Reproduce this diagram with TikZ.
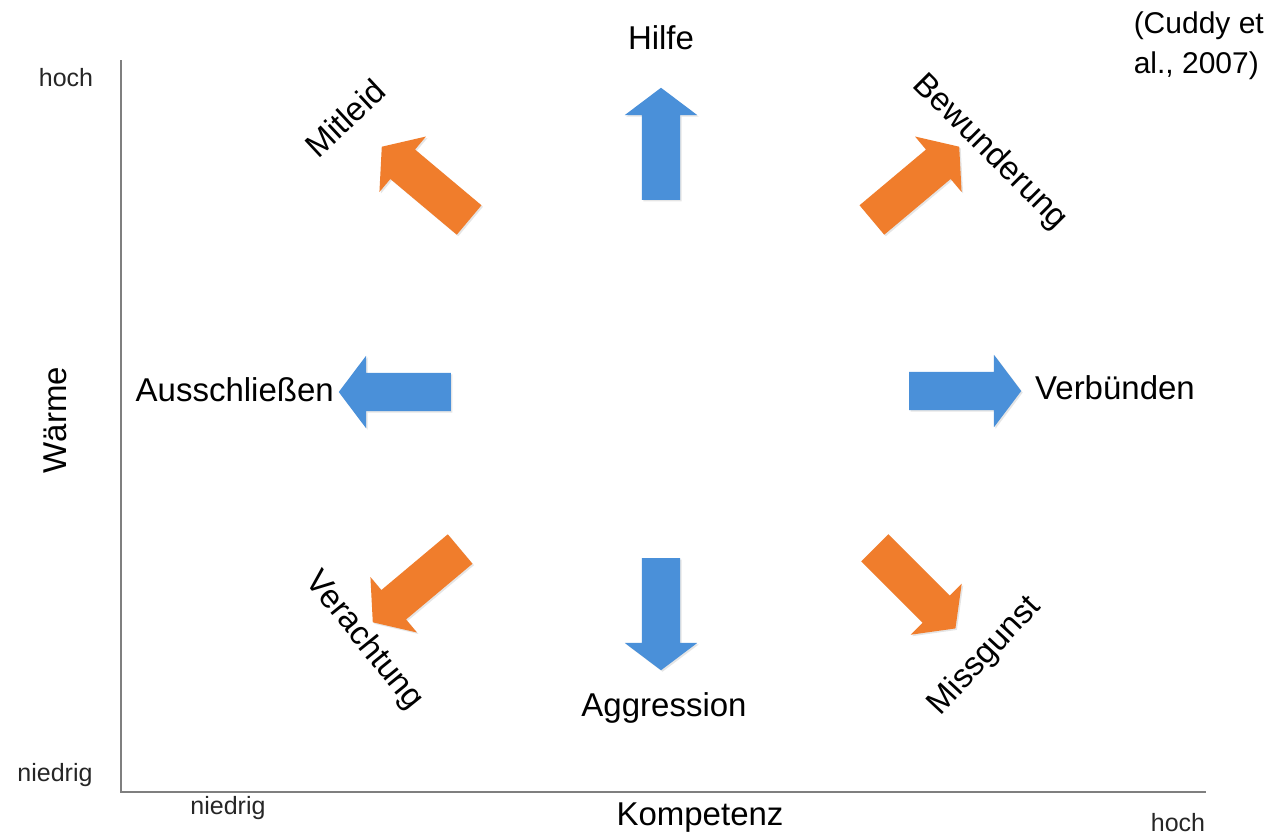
\documentclass[tikz,border=0pt]{standalone}
\usepackage{fontspec}
\setmainfont{Liberation Sans}
\usetikzlibrary{shapes.arrows,shadows}
\definecolor{arblue}{HTML}{4A90D9}
\definecolor{arorange}{HTML}{F07D2C}
\definecolor{axisgray}{HTML}{7F7F7F}
\tikzset{
  bigarrow/.style={single arrow, draw=none, inner xsep=0pt, inner ysep=19pt,
    single arrow head extend=17pt, single arrow tip angle=106,
    minimum height=#1, drop shadow={opacity=0.2, shadow xshift=1.5pt, shadow yshift=-1.5pt}},
  bluearrow/.style={bigarrow=112pt, fill=arblue},
  orangearrow/.style={bigarrow=114pt, fill=arorange},
  lbl/.style={font=\fontsize{33}{38}\selectfont, inner sep=0pt},
  small/.style={font=\fontsize{25}{29}\selectfont, inner sep=0pt, text=black!85},
  axisline/.style={draw=axisgray, line width=2.2pt}
}
\begin{document}
\begin{tikzpicture}[x=1pt,y=-1pt]
\useasboundingbox (0,0) rectangle (1271,836);
\fill[white] (0,0) rectangle (1271,836);
% axes
\coordinate (top) at (121,60);
\coordinate (origin) at (121,792);
\coordinate (right) at (1206,792);
\draw[axisline] (top) -- (origin) -- (right);
% arrows
\node[bluearrow, rotate=90] (aHilfe) at (661,151) {};
\node[bluearrow, rotate=-90] (aAggr) at (661,607) {};
\node[bluearrow, rotate=180] (aAus) at (402,392) {};
\node[bluearrow] (aVer) at (958,391) {};
\node[orangearrow, rotate=140] (aMit) at (431,188) {};
\node[orangearrow, rotate=40] (aBew) at (910,188) {};
\node[orangearrow, rotate=-45] (aMiss) at (910,583) {};
\node[orangearrow, rotate=220] (aVera) at (422,581) {};
% labels
\node[lbl] (tHilfe) at (661,38) {Hilfe};
\node[lbl] (tAggr) at (664,708) {Aggression};
\node[lbl, anchor=east] (tAus) at (334,390) {Ausschließen};
\node[lbl, anchor=west] (tVer) at (1035,388) {Verbünden};
\node[lbl, rotate=43] (tMit) at (345,118) {Mitleid};
\node[lbl, rotate=-45] (tBew) at (990,152) {Bewunderung};
\node[lbl, rotate=-51] (tVera) at (364,641) {Verachtung};
\node[lbl, rotate=47] (tMiss) at (985,656) {Missgunst};
\node[lbl, rotate=90] (tWarm) at (55,420) {Wärme};
\node[lbl] (tKomp) at (700,818) {Kompetenz};
\node[small] (yHoch) at (66,78) {hoch};
\node[small] (yNied) at (55,775) {niedrig};
\node[small] (xNied) at (228,808) {niedrig};
\node[small] (xHoch) at (1178,823) {hoch};
\node[font=\fontsize{30}{40}\selectfont, inner sep=0pt, align=left, anchor=north east] (cite) at (1264,12) {(Cuddy et\\al., 2007)};
\end{tikzpicture}
\end{document}
